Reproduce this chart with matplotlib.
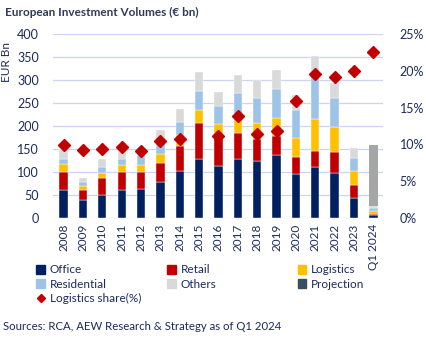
import matplotlib
import numpy as np

matplotlib.use("Agg")
import matplotlib.pyplot as plt
from matplotlib.lines import Line2D
from matplotlib.patches import Patch

YEARS = ["2008", "2009", "2010", "2011", "2012", "2013", "2014", "2015", "2016",
         "2017", "2018", "2019", "2020", "2021", "2022", "2023", "Q1 2024"]
# stacked segment heights (EUR bn)
OFFICE = [61.6, 38.4, 49.3, 61.6, 64.0, 77.5, 103.0, 129.0, 112.3, 127.5, 123.0, 136.0, 96.4, 110.0, 98.0, 42.8, 5.7]
RETAIL = [39.4, 23.2, 37.7, 38.4, 37.0, 42.5, 52.8, 77.5, 66.7, 57.3, 48.7, 43.0, 36.2, 35.0, 44.7, 28.2, 3.7]
LOGISTICS = [17.0, 8.0, 11.5, 14.5, 15.0, 20.0, 25.0, 29.0, 25.0, 36.2, 34.8, 37.7, 42.0, 70.0, 55.8, 30.4, 6.5]
RESIDENTIAL = [11.0, 7.9, 13.5, 13.5, 21.7, 25.4, 29.0, 41.3, 38.7, 52.0, 55.5, 64.3, 59.4, 96.5, 61.5, 29.6, 5.1]
OTHERS = [21.0, 9.5, 17.0, 20.0, 14.3, 26.0, 28.0, 40.6, 31.3, 38.6, 38.7, 41.5, 34.0, 40.0, 33.5, 21.0, 5.0]
PROJECTION = [0, 0, 0, 0, 0, 0, 0, 0, 0, 0, 0, 0, 0, 0, 0, 0, 133.4]
# 2015 marker is not visible in the source chart
LOG_SHARE = [9.9, 9.2, 9.4, 9.7, 9.1, 10.5, 10.8, np.nan, 11.2, 13.9, 11.4, 11.8, 15.9, 19.6, 19.2, 20.0, 22.6]

TEXT = "#1B2A5C"
COLORS = {
    "Office": "#002060",
    "Retail": "#C00000",
    "Logistics": "#FFC000",
    "Residential": "#9DC3E6",
    "Others": "#D9D9D9",
}
PROJ_BAR = "#A6A6A6"
PROJ_LEGEND = "#3A4F5E"
GRID = "#CDD3F2"

plt.rcParams["font.family"] = ["Lato", "DejaVu Sans"]

fig = plt.figure(figsize=(4.27, 3.38), dpi=100)
ax = fig.add_axes([0.124, 0.355, 0.773, 0.544])
ax2 = ax.twinx()

x = np.arange(len(YEARS))
bottom = np.zeros(len(YEARS))
for name, vals in [("Office", OFFICE), ("Retail", RETAIL), ("Logistics", LOGISTICS),
                   ("Residential", RESIDENTIAL), ("Others", OTHERS)]:
    ax.bar(x, vals, bottom=bottom, width=0.43, color=COLORS[name], edgecolor="white",
           linewidth=0.3, zorder=2)
    bottom += np.array(vals)
ax.bar(x, PROJECTION, bottom=bottom, width=0.43, color=PROJ_BAR, linewidth=0, zorder=2)

ax.set_ylim(0, 400)
ax.set_yticks(range(0, 401, 50))
ax.set_xlim(-0.55, len(YEARS) - 0.5)
ax.set_xticks(x)
ax.set_xticklabels(YEARS, rotation=90, fontsize=8.5, color=TEXT)
ax.tick_params(axis="y", labelsize=9, colors=TEXT, length=0, pad=10)
ax.tick_params(axis="x", length=0, pad=4)
ax.grid(axis="y", color=GRID, linewidth=0.9, zorder=0)
ax.set_axisbelow(True)
ax.set_ylabel("EUR Bn", fontsize=8.5, color=TEXT, labelpad=4)
ax.yaxis.set_label_coords(-0.125, 0.85)

ax2.plot(x, LOG_SHARE, linestyle="none", marker="D", markersize=6, color="#C00000", zorder=5)
ax2.set_ylim(0, 25)
ax2.set_yticks(range(0, 26, 5))
ax2.set_yticklabels([f"{v}%" for v in range(0, 26, 5)])
ax2.tick_params(axis="y", labelsize=9, colors=TEXT, length=0, pad=12)

for a in (ax, ax2):
    for spine in a.spines.values():
        spine.set_visible(False)

fig.text(0.012, 0.962, "European Investment Volumes (€ bn)", fontsize=8.5, fontweight="bold",
         color="#2E3A55", va="center", ha="left")

legend_cols = [
    ([Patch(color=COLORS["Office"]), Patch(color=COLORS["Residential"]),
      Line2D([], [], marker="D", linestyle="none", color="#C00000", markersize=4.5)],
     ["Office", "Residential", "Logistics share(%)"], 0.085),
    ([Patch(color=COLORS["Retail"]), Patch(color=COLORS["Others"])], ["Retail", "Others"], 0.392),
    ([Patch(color=COLORS["Logistics"]), Patch(color=PROJ_LEGEND)], ["Logistics", "Projection"], 0.697),
]
for handles, labels, xpos in legend_cols:
    fig.legend(handles, labels, loc="upper left", bbox_to_anchor=(xpos, 0.218), frameon=False,
               fontsize=8.5, labelcolor=TEXT, handlelength=0.75, handleheight=0.75,
               handletextpad=0.4, labelspacing=0.3, borderaxespad=0, borderpad=0)

fig.text(0.008, 0.035, "Sources: RCA, AEW Research & Strategy as of Q1 2024", fontsize=8.2,
         color=TEXT, va="center", ha="left")

fig.savefig("out.png", dpi=100, facecolor="white")
